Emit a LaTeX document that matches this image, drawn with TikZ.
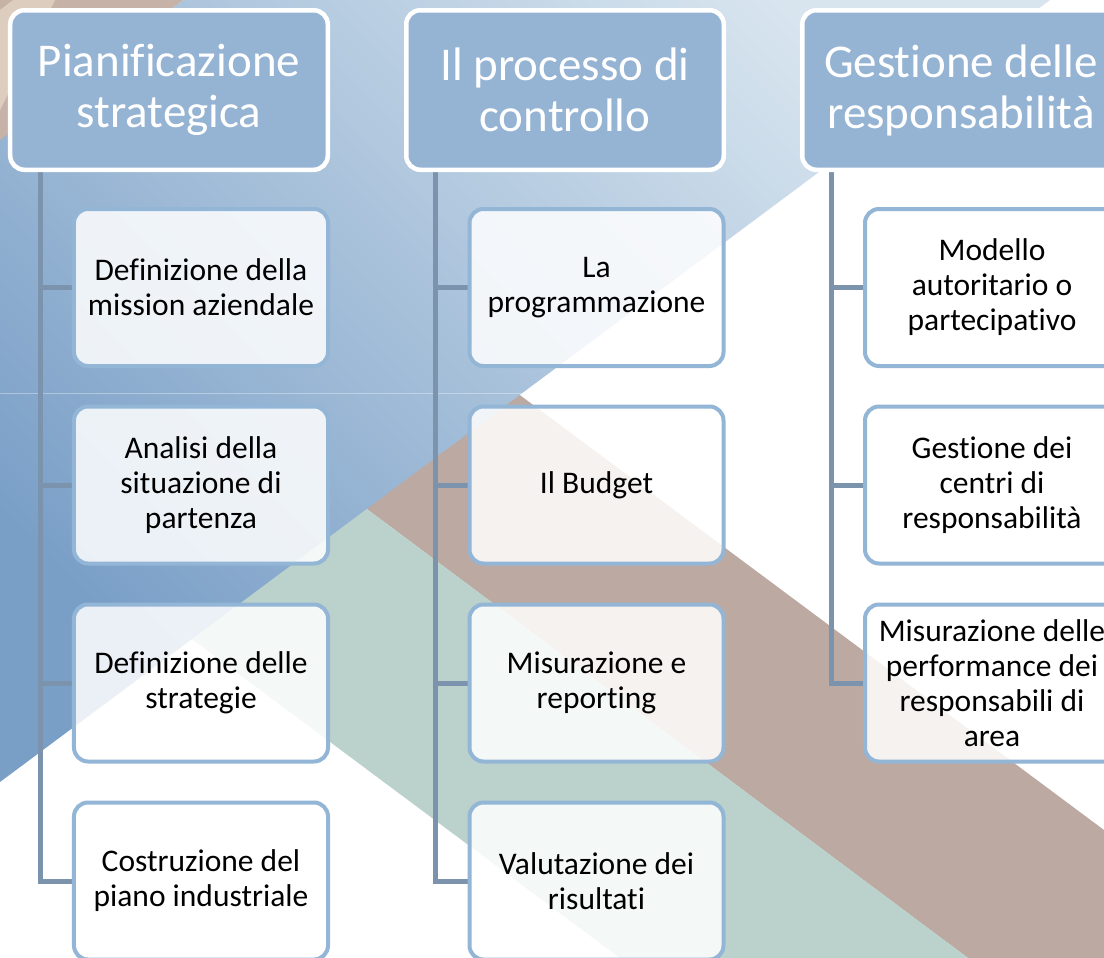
\documentclass[tikz,border=0pt]{standalone}
\usepackage{fontspec}
\setmainfont[Ligatures=NoCommon]{Carlito}
\definecolor{hdrblue}{HTML}{95B3D3}
\definecolor{boxline}{HTML}{93B5D6}
\definecolor{connclr}{HTML}{7B93AD}
\definecolor{brownband}{HTML}{BCA9A1}
\definecolor{tealband}{HTML}{BAD2CB}
\definecolor{bluedark}{HTML}{7A9FC7}
\definecolor{bluelight}{HTML}{D8E5EF}
\definecolor{tlbrown}{HTML}{C6B2A6}
\definecolor{tlbeige}{HTML}{DCCDBF}
\pgfdeclarelayer{backlayer}
\pgfdeclarelayer{connlayer}
\pgfsetlayers{backlayer,connlayer,main}
\tikzset{
  hdr/.style={draw=white, line width=4.5bp, fill=hdrblue, rounded corners=14bp,
    minimum width=317.5bp, minimum height=159.5bp, inner sep=0pt, text=white,
    font=\fontsize{47bp}{51bp}\selectfont, align=center},
  item/.style={draw=boxline, line width=4bp, fill=white, fill opacity=0.85, text opacity=1,
    rounded corners=14bp, minimum width=254bp, minimum height=157bp, inner sep=0pt,
    text=black, font=\fontsize{31.5bp}{35bp}\selectfont, align=center},
  link/.style={draw=connclr, line width=5bp}
}
\begin{document}
\begin{tikzpicture}[x=1bp,y=-1bp]
\useasboundingbox (0,0) rectangle (1104,958);
\clip (0,0) rectangle (1104,958);
\begin{pgfonlayer}{backlayer}
\fill[white] (0,0) rectangle (1104,958);
\fill[brownband] (0,8) -- (1104,830) -- (1104,958) -- (968,958) -- (0,235) -- cycle;
\fill[tealband] (0,235) -- (968,958) -- (620,958) -- (0,496) -- cycle;
\shade[top color=bluelight, bottom color=bluedark, shading angle=-45]
  (183,0) -- (1050,0) -- (0,782) -- (0,140) -- cycle;
\fill[tlbrown] (0,0) -- (183,0) -- (0,140) -- cycle;
\fill[tlbeige] (0,10) -- (13,0) -- (55,0) -- (0,110) -- cycle;
\draw[white, opacity=0.35, line width=0.8bp] (0,393) -- (522,393);
\end{pgfonlayer}
% headers
\node[hdr] (h1) at (169,90) {Pianificazione\\strategica};
\node[hdr] (h2) at (565,90) {Il processo di\\controllo};
\node[hdr] (h3) at (961,90) {Gestione delle\\responsabilità};
% children
\node[item] (c11) at (201,287.5) {Definizione della\\mission aziendale};
\node[item] (c12) at (201,485) {Analisi della\\situazione di\\partenza};
\node[item] (c13) at (201,683) {Definizione delle\\strategie};
\node[item] (c14) at (201,881) {Costruzione del\\piano industriale};
\node[item] (c21) at (596.5,287.5) {La\\programmazione};
\node[item] (c22) at (596.5,485) {Il Budget};
\node[item] (c23) at (596.5,683) {Misurazione e\\reporting};
\node[item] (c24) at (596.5,881) {Valutazione dei\\risultati};
\node[item] (c31) at (992,287.5) {Modello\\autoritario o\\partecipativo};
\node[item] (c32) at (992,485) {Gestione dei\\centri di\\responsabilità};
\node[item] (c33) at (992,683) {Misurazione delle\\performance dei\\responsabili di\\area};
% connectors
\begin{pgfonlayer}{connlayer}
\foreach \c in {c11,c12,c13,c14}{\draw[link] ([xshift=33bp]h1.south west) |- (\c.west);}
\foreach \c in {c21,c22,c23,c24}{\draw[link] ([xshift=31bp]h2.south west) |- (\c.west);}
\foreach \c in {c31,c32,c33}{\draw[link] ([xshift=31bp]h3.south west) |- (\c.west);}
\end{pgfonlayer}
\end{tikzpicture}
\end{document}
